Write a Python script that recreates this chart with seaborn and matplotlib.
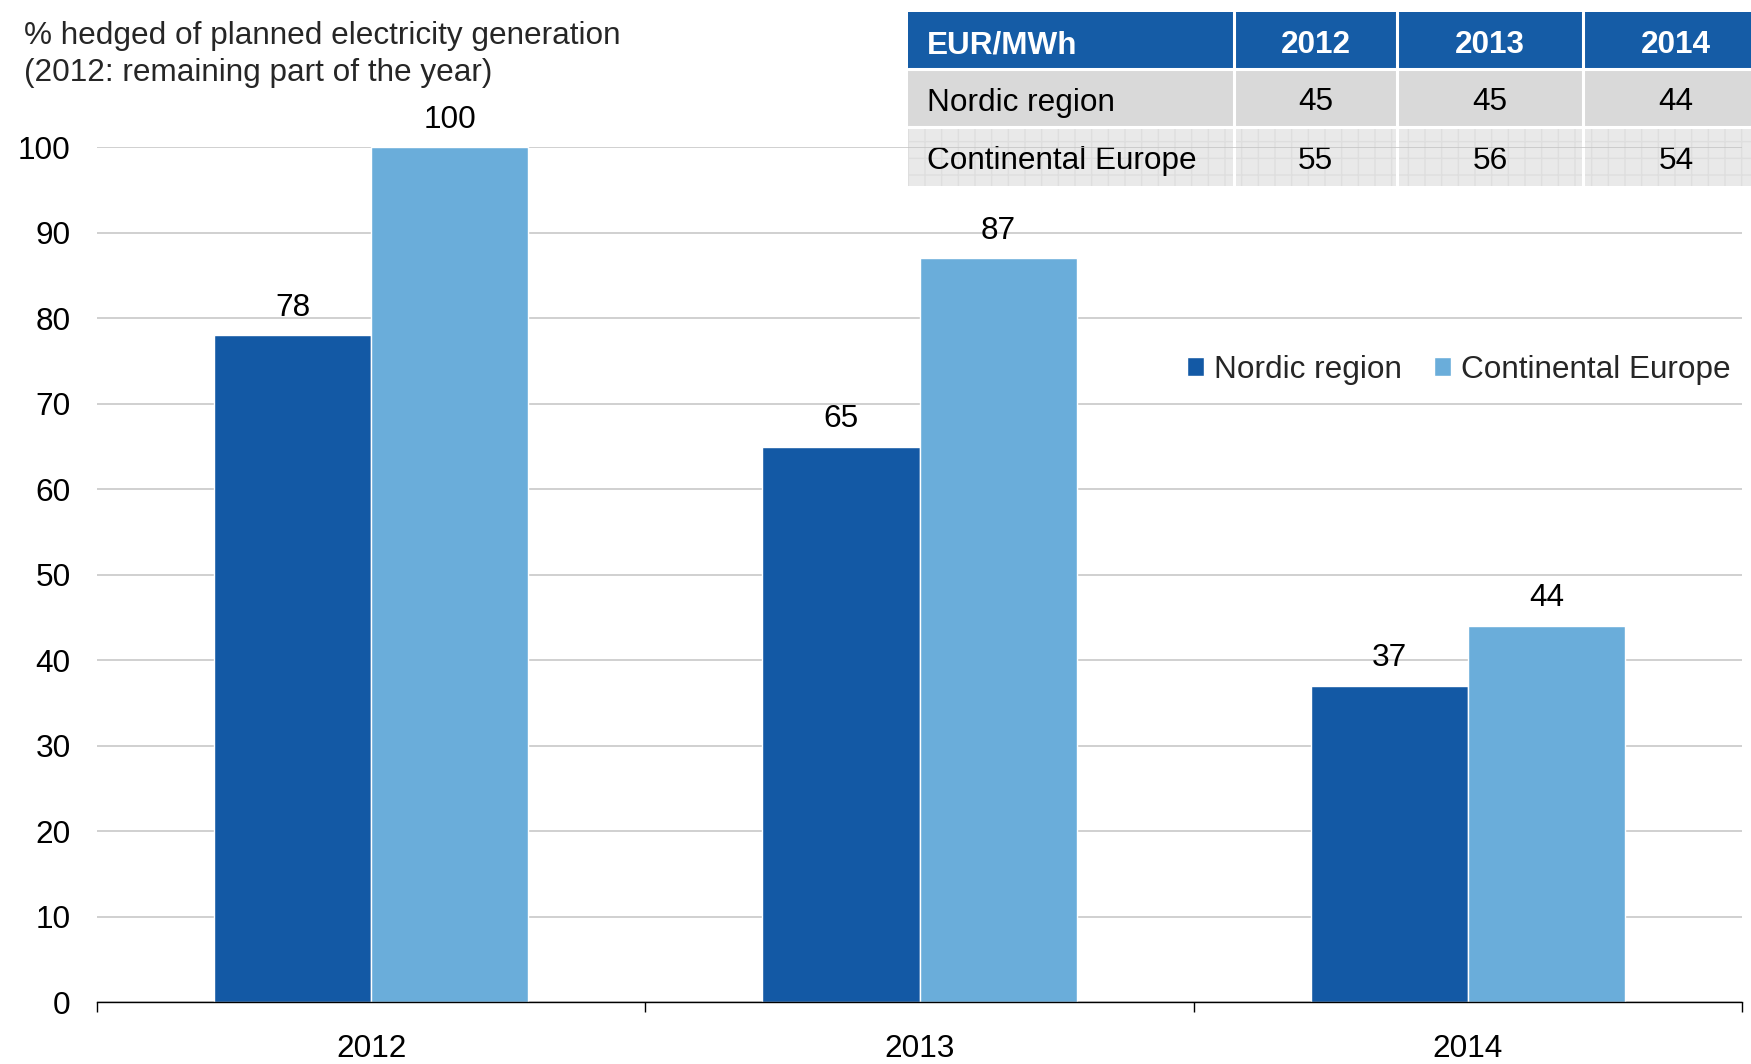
import matplotlib
matplotlib.use("Agg")
import matplotlib.pyplot as plt
from matplotlib.patches import Rectangle
import seaborn as sns
import pandas as pd

# Hedge ratios (% of planned electricity generation)
years = ["2012", "2013", "2014"]
regions = ["Nordic region", "Continental Europe"]
nordic_hedged = [78, 65, 37]
continental_hedged = [100, 87, 44]

# Hedge prices (EUR/MWh)
price_header = ["EUR/MWh", "2012", "2013", "2014"]
nordic_price = [45, 45, 44]
continental_price = [55, 56, 54]

NORDIC_BLUE = "#1359A5"
LIGHT_BLUE = "#6AADDA"
HEADER_BLUE = "#155CA6"

sns.set_theme(style="white")
plt.rcParams["font.family"] = ["Liberation Sans", "DejaVu Sans"]
FS = 22.7

W, H = 1751, 1064
fig = plt.figure(figsize=(W / 100, H / 100), dpi=100)

# ---- price table (top right) ----
tx0, tx1, ty0, ty1 = 908, 1769, 12, 186
tab = fig.add_axes([tx0 / W, 1 - ty1 / H, (tx1 - tx0) / W, (ty1 - ty0) / H], zorder=1)
tw, th = tx1 - tx0, ty1 - ty0
tab.set_xlim(0, tw)
tab.set_ylim(th, 0)
tab.axis("off")
col_edges = [0, 326, 489, 675, tw]
row_edges = [0, 57, 115, th]
row_fill = [HEADER_BLUE, "#D9D9D9", "#E9E9E9"]
for r in range(3):
    for c in range(4):
        rect = Rectangle((col_edges[c], row_edges[r]),
                         col_edges[c + 1] - col_edges[c], row_edges[r + 1] - row_edges[r],
                         facecolor=row_fill[r], edgecolor="none")
        if r == 2:
            rect.set_hatch("+")
            rect.set_edgecolor("#DEDEDE")
            rect.set_linewidth(0)
        tab.add_patch(rect)
# white cell separators
for x in col_edges[1:-1]:
    tab.axvline(x, color="white", lw=2.2)
for y in row_edges[1:-1]:
    tab.axhline(y, color="white", lw=2.2)

rows = [price_header,
        ["Nordic region"] + [str(v) for v in nordic_price],
        ["Continental Europe"] + [str(v) for v in continental_price]]
for r, row in enumerate(rows):
    yc = (row_edges[r] + row_edges[r + 1]) / 2 + 4.5
    for c, txt in enumerate(row):
        style = dict(fontsize=FS, va="center",
                     color="white" if r == 0 else "black",
                     fontweight="bold" if r == 0 else "normal")
        if c == 0:
            tab.text(19, yc, txt, ha="left", **style)
        else:
            tab.text((col_edges[c] + col_edges[c + 1]) / 2, yc, txt, ha="center", **style)

# ---- bar chart ----
ax = fig.add_axes([97 / W, 1 - 1002 / H, (1742 - 97) / W, (1002 - 147.4) / H], zorder=2)
ax.patch.set_alpha(0)

df = pd.DataFrame({
    "year": years * 2,
    "region": [regions[0]] * 3 + [regions[1]] * 3,
    "value": nordic_hedged + continental_hedged,
})
sns.barplot(data=df, x="year", y="value", hue="region", order=years, hue_order=regions,
            palette=[NORDIC_BLUE, LIGHT_BLUE], saturation=1, width=0.573,
            edgecolor="white", linewidth=1, ax=ax)

for cont in ax.containers:
    ax.bar_label(cont, fmt="{:.0f}", padding=9, fontsize=FS, color="black", clip_on=False)

ax.set_xlim(-0.5, 2.5)
ax.set_ylim(0, 100)
ax.set_yticks(range(0, 101, 10))
ax.yaxis.grid(True, color="#C4C4C4", lw=1.1)
ax.set_axisbelow(True)
for side in ["top", "right", "left"]:
    ax.spines[side].set_visible(False)
ax.spines["bottom"].set_color("black")
ax.spines["bottom"].set_linewidth(1.0)
ax.set_xlabel("")
ax.set_ylabel("")
ax.tick_params(axis="y", length=0, pad=19, labelsize=FS, labelcolor="black")
ax.tick_params(axis="x", which="major", length=0, pad=23, labelsize=FS, labelcolor="black")
ax.set_xticks([-0.5, 0.5, 1.5, 2.5], minor=True)
ax.tick_params(axis="x", which="minor", length=7.5, width=1, color="black", direction="out", bottom=True)

handles, labels = ax.get_legend_handles_labels()
ax.legend(handles, labels, loc="center", bbox_to_anchor=(1459 / W, 1 - 370 / H),
          bbox_transform=fig.transFigure, ncol=2, frameon=False, fontsize=FS,
          handlelength=0.55, handleheight=0.55, handletextpad=0.32, columnspacing=1.0,
          borderpad=0, borderaxespad=0)

fig.text(24 / W, 1 - 36 / H, "% hedged of planned electricity generation",
         fontsize=FS, va="center", ha="left")
fig.text(24 / W, 1 - 73.5 / H, "(2012: remaining part of the year)",
         fontsize=FS, va="center", ha="left")

fig.savefig("out.png", dpi=100)
